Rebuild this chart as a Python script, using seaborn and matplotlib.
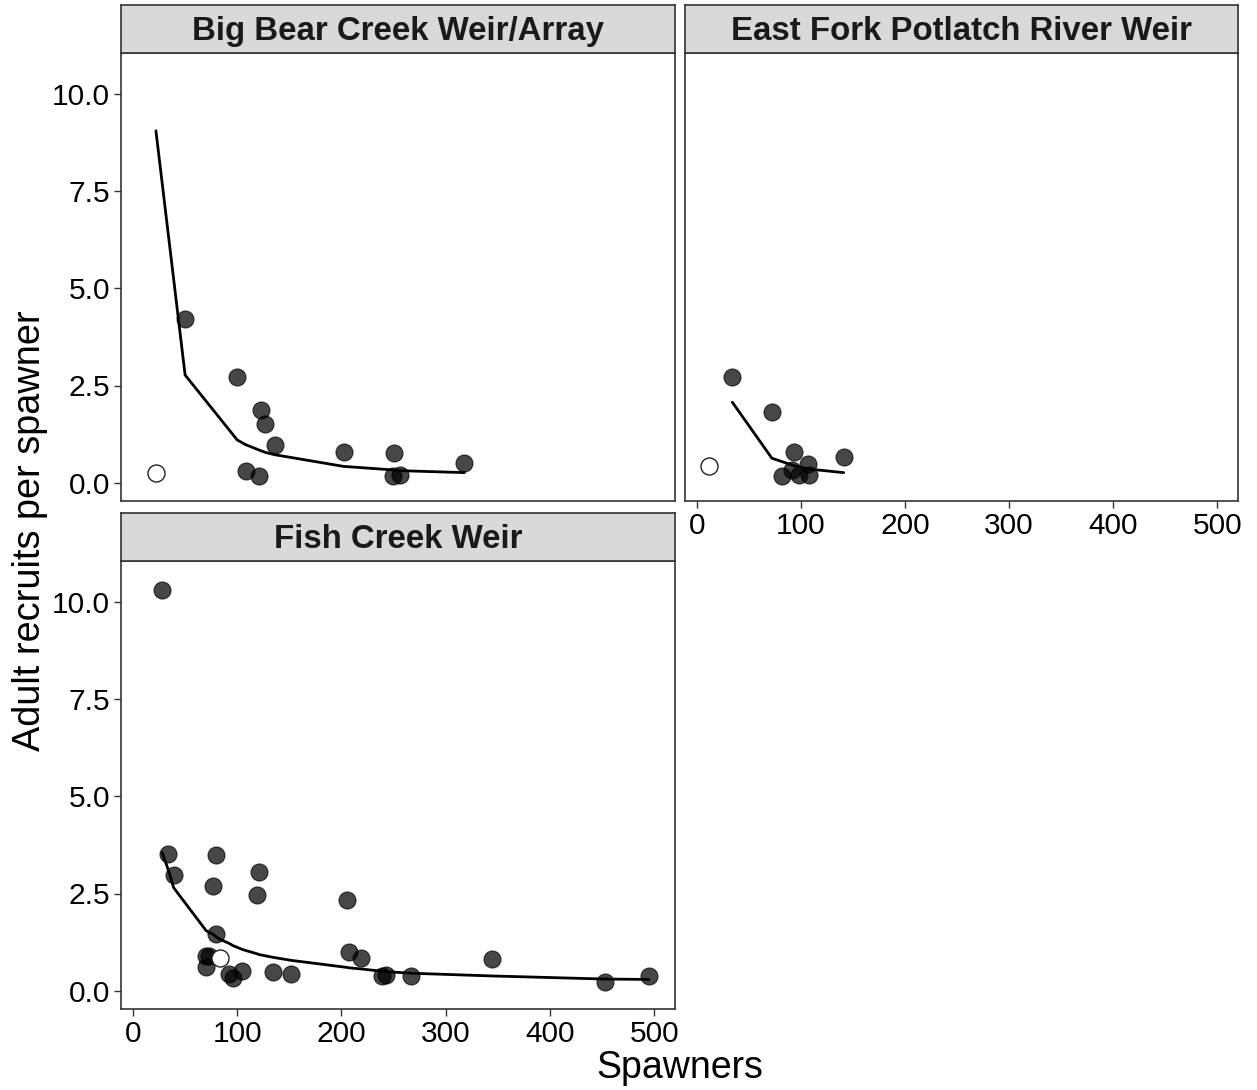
import numpy as np
import pandas as pd
import matplotlib
matplotlib.use("Agg")
import matplotlib.pyplot as plt
import seaborn as sns

sns.set_theme(style="white")
plt.rcParams["font.family"] = ["Liberation Sans", "DejaVu Sans"]
plt.rcParams["text.color"] = "black"

# Observed spawners and adult recruits per spawner, by site
sites = ["Big Bear Creek Weir/Array", "East Fork Potlatch River Weir", "Fish Creek Weir"]

bb_spawners = [22, 50, 100, 123, 127, 136, 108, 121, 202, 250, 249, 256, 318]
bb_rps = [0.26, 4.22, 2.71, 1.88, 1.52, 0.98, 0.29, 0.16, 0.79, 0.76, 0.16, 0.20, 0.51]
bb_hollow = [True, False, False, False, False, False, False, False, False, False, False, False, False]

ef_spawners = [12, 34, 72, 93, 141, 107, 82, 91, 98, 108]
ef_rps = [0.42, 2.71, 1.81, 0.78, 0.66, 0.49, 0.18, 0.33, 0.20, 0.20]
ef_hollow = [True, False, False, False, False, False, False, False, False, False]

fc_spawners = [28, 34, 39, 80, 77, 121, 119, 205, 80, 70, 73, 70, 83, 92, 96,
               105, 134, 152, 207, 219, 239, 243, 267, 344, 453, 495]
fc_rps = [10.31, 3.51, 2.97, 3.48, 2.69, 3.05, 2.47, 2.33, 1.46, 0.90, 0.90, 0.62,
          0.83, 0.42, 0.32, 0.52, 0.47, 0.44, 0.99, 0.83, 0.39, 0.41, 0.38, 0.81,
          0.23, 0.38]
fc_hollow = [False] * 12 + [True] + [False] * 13

# Fitted recruits-per-spawner curves
bb_fit_x = [22, 50, 100, 108, 121, 123, 127, 136, 202, 249, 250, 256, 318]
bb_fit_y = [9.05, 2.77, 1.10, 0.98, 0.84, 0.82, 0.78, 0.72, 0.42, 0.33, 0.32, 0.31, 0.26]

ef_fit_x = [34, 72, 82, 91, 93, 98, 107, 108, 141]
ef_fit_y = [2.07, 0.63, 0.54, 0.46, 0.44, 0.41, 0.36, 0.35, 0.26]

fc_fit_x = [28, 34, 39, 70, 73, 77, 80, 83, 92, 96, 105, 119, 121, 134, 152,
            205, 207, 219, 239, 243, 267, 344, 453, 495]
fc_fit_y = [3.55, 3.10, 2.65, 1.55, 1.50, 1.45, 1.38, 1.33, 1.22, 1.16, 1.06, 0.95,
            0.93, 0.86, 0.78, 0.60, 0.59, 0.56, 0.50, 0.49, 0.45, 0.38, 0.30, 0.29]

obs = pd.concat([
    pd.DataFrame({"site": sites[0], "spawners": bb_spawners, "rps": bb_rps, "hollow": bb_hollow}),
    pd.DataFrame({"site": sites[1], "spawners": ef_spawners, "rps": ef_rps, "hollow": ef_hollow}),
    pd.DataFrame({"site": sites[2], "spawners": fc_spawners, "rps": fc_rps, "hollow": fc_hollow}),
], ignore_index=True)
fit = pd.concat([
    pd.DataFrame({"site": sites[0], "spawners": bb_fit_x, "rps": bb_fit_y}),
    pd.DataFrame({"site": sites[1], "spawners": ef_fit_x, "rps": ef_fit_y}),
    pd.DataFrame({"site": sites[2], "spawners": fc_fit_x, "rps": fc_fit_y}),
], ignore_index=True)

W, H = 1257, 1090
fig = plt.figure(figsize=(W / 100, H / 100), dpi=100)

def frac(x0, y0, x1, y1):
    return [x0 / W, 1 - y1 / H, (x1 - x0) / W, (y1 - y0) / H]

panels = {
    sites[0]: (frac(121, 53, 675, 501), frac(121, 5, 675, 53), True, False),
    sites[1]: (frac(685, 53, 1238, 501), frac(685, 5, 1238, 53), False, True),
    sites[2]: (frac(121, 561, 675, 1009), frac(121, 513, 675, 561), True, True),
}

tick_fs = 21.5
for site, (pos, spos, show_y, show_x) in panels.items():
    ax = fig.add_axes(pos)
    d = obs[obs.site == site]
    f = fit[fit.site == site]
    sns.lineplot(data=f, x="spawners", y="rps", ax=ax, color="black", lw=2,
                 estimator=None, sort=True, zorder=2)
    sns.scatterplot(data=d[~d.hollow], x="spawners", y="rps", ax=ax, s=150,
                    color="black", alpha=0.72, edgecolor="black", linewidth=0.8, zorder=3)
    sns.scatterplot(data=d[d.hollow], x="spawners", y="rps", ax=ax, s=150,
                    facecolor="white", edgecolor="#222222", linewidth=1.0, zorder=4)
    ax.set_xlim(-11.5, 520)
    ax.set_ylim(-0.47, 11.05)
    ax.set_xticks([0, 100, 200, 300, 400, 500])
    ax.set_yticks([0, 2.5, 5, 7.5, 10])
    ax.set_yticklabels(["0.0", "2.5", "5.0", "7.5", "10.0"])
    ax.set_xlabel("")
    ax.set_ylabel("")
    ax.tick_params(axis="both", which="both", length=5, width=1, color="#333333",
                   labelsize=tick_fs, labelcolor="black", pad=3,
                   left=show_y, labelleft=show_y, bottom=show_x, labelbottom=show_x)
    for sp in ax.spines.values():
        sp.set_color("#333333")
        sp.set_linewidth(1.2)
        sp.set_visible(True)
    ax.grid(False)
    # facet strip
    sax = fig.add_axes(spos)
    sax.set_facecolor("#d9d9d9")
    sax.set_xticks([])
    sax.set_yticks([])
    for sp in sax.spines.values():
        sp.set_color("#333333")
        sp.set_linewidth(1.2)
        sp.set_visible(True)
    sax.text(0.5, 0.45, site, transform=sax.transAxes, ha="center", va="center",
             fontsize=23.8, fontweight="bold", color="#1a1a1a")

fig.text(679.5 / W, 1 - 1068 / H, "Spawners", ha="center", va="center",
         fontsize=27, color="black")
fig.text(30 / W, 1 - 531 / H, "Adult recruits per spawner", ha="center", va="center",
         rotation=90, fontsize=27.3, color="black")

fig.savefig("out.png", dpi=100, facecolor="white")
